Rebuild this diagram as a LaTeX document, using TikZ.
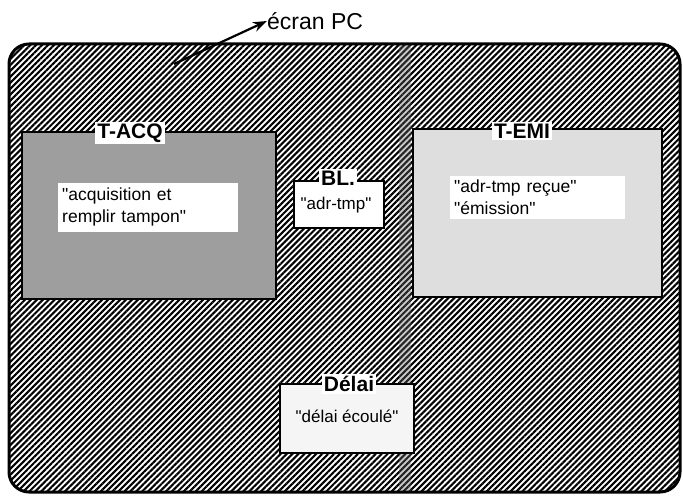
\documentclass[tikz,border=0pt]{standalone}
\usepackage{fontspec}
\setmainfont{Liberation Sans}[Ligatures=TeXOff]
\usetikzlibrary{patterns.meta,arrows.meta}
\begin{document}
\begin{tikzpicture}[x=1pt,y=-1pt,
  hatch/.style={pattern={Lines[angle=45,distance=4.2pt,line width=2.1pt]},pattern color=black},
  panel/.style={draw=black,line width=2.2pt,inner sep=0pt},
  ttl/.style={fill=white,font=\bfseries\fontsize{21}{23}\selectfont,inner sep=2pt},
  txt/.style={fill=white,font=\fontsize{17.5}{22}\selectfont,align=left,inner sep=4pt,anchor=north west}]
\useasboundingbox (0,0) rectangle (683,497);
% screen
\fill[white,rounded corners=20] (9,44) rectangle (680,492);
\fill[hatch,rounded corners=20] (9,44) rectangle (680,492);
\fill[black!60,opacity=0.35] (399,45) rectangle (411,491);
\draw[line width=3pt,rounded corners=20] (9,44) rectangle (680,492);
\node[inner sep=0pt,anchor=west,font=\fontsize{23}{25}\selectfont] (ecran) at (267,21) {écran PC};
\coordinate (ptr) at (174,64);
\draw[line width=2.2pt,-{Stealth[length=14pt,width=10pt]}] (ptr) -- (ecran.west);
% T-ACQ
\fill[black!38] (22,132) rectangle (276,299);
\draw[panel] (22,132) rectangle (276,299);
\node[ttl] (tacq) at (130,133) {T-ACQ};
\node[txt,text width=172pt,inner ysep=5pt] (acq) at (58,183) {"acquisition et\\remplir tampon"};
% BL.
\fill[white] (294,181) rectangle (384,228);
\draw[panel] (294,181) rectangle (384,228);
\node[ttl] (bl) at (338,178) {BL.};
\node[font=\fontsize{17}{19}\selectfont,inner sep=1pt] (adr) at (336,205) {"adr-tmp"};
% T-EMI
\fill[black!13] (413,129) rectangle (662,297);
\draw[panel] (413,129) rectangle (662,297);
\node[ttl] (temi) at (522,131) {T-EMI};
\node[txt,text width=167pt] (emi) at (450,176) {"adr-tmp reçue"\\"émission"};
% Délai
\fill[black!4] (280,384) rectangle (414,453);
\draw[panel] (280,384) rectangle (414,453);
\node[ttl] (delai) at (349,384) {Délai};
\node[font=\fontsize{17}{19}\selectfont,inner sep=1pt] (ecoule) at (347,416) {"délai écoulé"};
\end{tikzpicture}
\end{document}
